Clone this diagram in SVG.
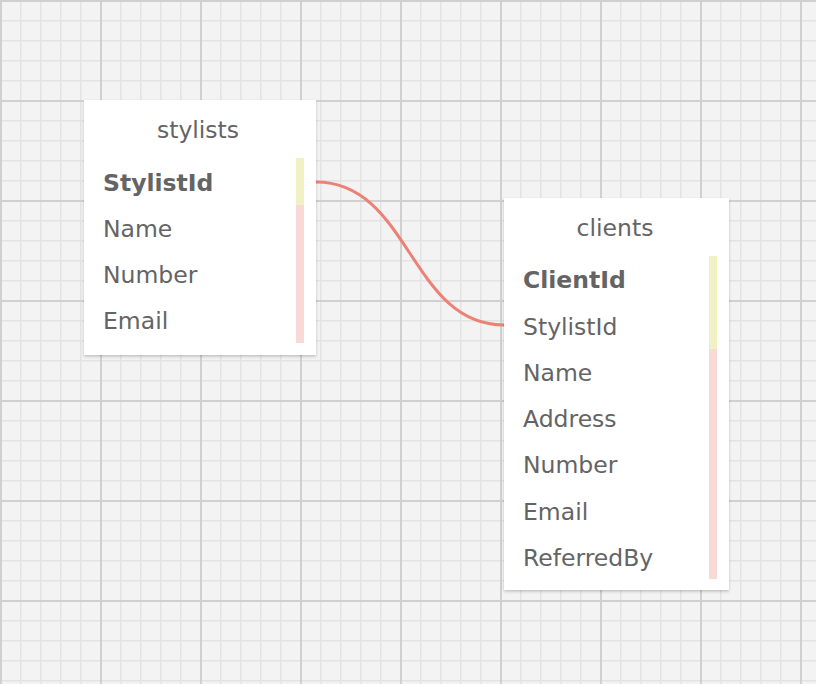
<svg xmlns="http://www.w3.org/2000/svg" width="816" height="684" viewBox="0 0 816 684">
<defs>
<pattern id="minor" x="0" y="0" width="20" height="20" patternUnits="userSpaceOnUse">
<rect width="20" height="20" fill="#f3f3f3"/>
<path d="M0.75 0V20M0 0.75H20" stroke="#e3e3e3" stroke-width="1.5" fill="none"/>
</pattern>
<pattern id="major" x="0" y="0" width="100" height="100" patternUnits="userSpaceOnUse">
<path d="M101 0V100M0 101H100M1 0V100M0 1H100" stroke="#d0d0d0" stroke-width="2" fill="none"/>
</pattern>
<filter id="sh" x="-10%" y="-10%" width="120%" height="120%">
<feDropShadow dx="0" dy="1.5" stdDeviation="1.8" flood-color="#000" flood-opacity="0.22"/>
</filter>
</defs>
<style>
.box{fill:#ffffff;filter:url(#sh)}
.t{font-family:"DejaVu Sans",Verdana,sans-serif;font-size:23.5px;fill:#646464}
.title{text-anchor:middle}
.pk{font-weight:bold}
.y{fill:#f1f1c6}
.p{fill:#f8d9d7}
.edge{fill:none;stroke:#ec8275;stroke-width:3}
</style>
<rect width="816" height="684" fill="url(#minor)"/>
<rect width="816" height="684" fill="url(#major)"/>
<g id="connectors">
<path class="edge" d="M316 182C410 182 410 325 504 325"/>
</g>
<g id="stylists">
<rect class="box" x="84" y="100" width="232" height="255"/>
<text class="t title" x="198" y="138">stylists</text>
<rect class="y" x="296" y="158" width="8" height="47"/>
<rect class="p" x="296" y="205" width="8" height="138"/>
<text class="t pk" x="103" y="191">StylistId</text>
<text class="t" x="103" y="237">Name</text>
<text class="t" x="103" y="283">Number</text>
<text class="t" x="103" y="329">Email</text>
</g>
<g id="clients">
<rect class="box" x="504" y="198" width="225" height="392"/>
<text class="t title" x="615" y="236">clients</text>
<rect class="y" x="709" y="256" width="8" height="93"/>
<rect class="p" x="709" y="349" width="8" height="230"/>
<text class="t pk" x="523" y="288">ClientId</text>
<text class="t" x="523" y="335">StylistId</text>
<text class="t" x="523" y="381">Name</text>
<text class="t" x="523" y="427">Address</text>
<text class="t" x="523" y="473">Number</text>
<text class="t" x="523" y="520">Email</text>
<text class="t" x="523" y="566">ReferredBy</text>
</g>
</svg>
